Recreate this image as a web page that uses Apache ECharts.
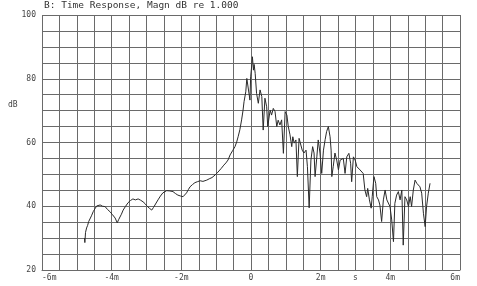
<!DOCTYPE html>
<html><head><meta charset="utf-8">
<script src="https://cdn.jsdelivr.net/npm/echarts@6/dist/echarts.min.js"></script>
<style>html,body{margin:0;padding:0;background:#fff}#c{width:477px;height:286px}</style>
</head><body><div id="c"></div>
<script>
const titleText = 'B: Time Response, Magn dB re 1.000';
const yName = 'dB';
const xTickLabels = {'-6':'-6m','-4':'-4m','-2':'-2m','0':'0','2':'2m','3':'s','4':'4m','6':'6m'};
const yTickLabels = [20, 40, 60, 80, 100];
const timeMs = [-4.78,-4.77,-4.75,-4.72,-4.69,-4.66,-4.62,-4.58,-4.53,-4.48,-4.43,-4.38,-4.33,-4.26,-4.19,-4.12,-4.05,-3.98,-3.90,-3.84,-3.80,-3.76,-3.72,-3.67,-3.60,-3.53,-3.46,-3.39,-3.32,-3.24,-3.17,-3.10,-3.04,-2.99,-2.92,-2.85,-2.80,-2.76,-2.67,-2.60,-2.53,-2.42,-2.33,-2.24,-2.17,-2.10,-2.02,-1.95,-1.90,-1.85,-1.80,-1.75,-1.68,-1.61,-1.54,-1.46,-1.38,-1.27,-1.20,-1.12,-1.03,-0.95,-0.86,-0.78,-0.72,-0.66,-0.60,-0.53,-0.46,-0.41,-0.37,-0.32,-0.27,-0.23,-0.20,-0.15,-0.12,-0.08,-0.03,-0.01,0.02,0.04,0.07,0.09,0.12,0.16,0.21,0.26,0.31,0.35,0.40,0.45,0.48,0.55,0.59,0.64,0.69,0.74,0.78,0.83,0.88,0.93,0.98,1.03,1.07,1.12,1.17,1.20,1.24,1.29,1.33,1.38,1.43,1.47,1.52,1.58,1.62,1.67,1.72,1.77,1.81,1.84,1.89,1.93,1.98,2.03,2.08,2.13,2.17,2.22,2.27,2.30,2.32,2.36,2.41,2.46,2.51,2.56,2.60,2.65,2.70,2.75,2.81,2.86,2.89,2.94,2.99,3.04,3.08,3.13,3.18,3.22,3.27,3.32,3.35,3.40,3.45,3.48,3.53,3.58,3.61,3.66,3.70,3.75,3.80,3.85,3.90,3.94,3.99,4.04,4.09,4.13,4.18,4.23,4.28,4.33,4.37,4.42,4.47,4.52,4.57,4.61,4.66,4.71,4.76,4.80,4.85,4.90,4.95,5.00,5.04,5.09,5.14];
const magnDb = [30.0,28.6,31.8,33.2,34.0,35.2,35.7,37.0,38.3,39.2,40.1,40.3,40.4,40.0,39.9,39.0,38.3,37.4,36.3,34.8,35.8,36.3,37.5,38.8,40.0,41.1,41.8,42.3,42.0,42.3,41.9,41.4,40.8,40.1,39.4,38.8,39.6,39.9,42.0,43.2,44.2,44.9,44.8,44.6,44.0,43.5,43.2,43.0,43.6,44.2,45.2,46.1,46.8,47.4,47.7,48.0,47.8,48.2,48.6,49.0,49.8,50.7,51.8,52.9,53.6,54.5,56.1,57.4,58.7,60.2,61.8,64.0,67.1,70.0,72.8,75.9,80.1,80.6,73.3,80.6,84.0,86.9,82.7,84.5,81.7,75.4,72.3,76.5,74.4,63.9,73.9,71.2,65.0,70.2,68.6,70.7,69.7,65.0,67.0,65.5,67.1,56.6,69.7,68.6,65.0,62.4,58.7,61.8,59.8,60.8,49.3,61.3,61.8,57.6,56.7,57.6,52.4,39.5,54.5,58.7,56.7,49.3,55.5,60.8,56.7,50.3,57.6,61.0,63.4,65.0,61.8,57.6,49.3,52.4,56.7,54.5,51.4,54.5,54.0,55.0,50.3,55.5,56.6,53.5,47.7,55.5,54.5,52.4,52.9,51.4,51.9,50.3,45.1,43.0,45.6,42.0,39.4,43.0,49.3,47.2,43.0,42.0,40.4,35.2,42.0,45.1,42.0,41.4,39.9,35.7,28.9,40.9,43.5,44.6,42.0,45.1,27.8,43.0,42.0,39.9,43.0,39.9,45.1,48.2,47.2,46.7,46.1,44.1,37.8,33.6,39.9,44.1,47.2];

const data = timeMs.map((t, i) => [t, magnDb[i]]);
const chart = echarts.init(document.getElementById('c'), null, {renderer: 'canvas'});
const labelFont = {fontFamily: 'DejaVu Sans Mono', fontSize: 8, color: '#444'};
const gridLine = {lineStyle: {color: '#6a6a6a', width: 1}};
chart.setOption({
  animation: false,
  backgroundColor: '#fff',
  grid: {left: 42, right: 17, top: 15, bottom: 16},
  graphic: [
    {type: 'text', left: 44, top: 1, style: {text: titleText, font: '9.5px "DejaVu Sans Mono"', fill: '#333'}},
    {type: 'text', left: 8, top: 101, style: {text: yName, font: '8px "DejaVu Sans Mono"', fill: '#444'}}
  ],
  xAxis: {
    type: 'value', min: -6, max: 6, interval: 0.5,
    axisLine: {show: true, lineStyle: {color: '#6a6a6a'}},
    axisTick: {show: false},
    splitLine: Object.assign({show: true}, gridLine),
    axisLabel: Object.assign({}, labelFont, {
      margin: 4,
      alignMinLabel: 'left', alignMaxLabel: 'right',
      formatter: v => { const k = String(Math.round(v * 2) / 2); return xTickLabels[k] !== undefined ? xTickLabels[k] : ''; }
    })
  },
  yAxis: {
    type: 'value', min: 20, max: 100, interval: 5,
    axisLine: {show: true, lineStyle: {color: '#6a6a6a'}},
    axisTick: {show: false},
    splitLine: Object.assign({show: true}, gridLine),
    axisLabel: Object.assign({}, labelFont, {
      margin: 6,
      formatter: v => yTickLabels.indexOf(v) >= 0 ? String(v) : ''
    })
  },
  series: [{
    type: 'line', data: data, showSymbol: false, symbol: 'none',
    lineStyle: {color: '#2a2a2a', width: 1}
  }]
});
</script></body></html>
